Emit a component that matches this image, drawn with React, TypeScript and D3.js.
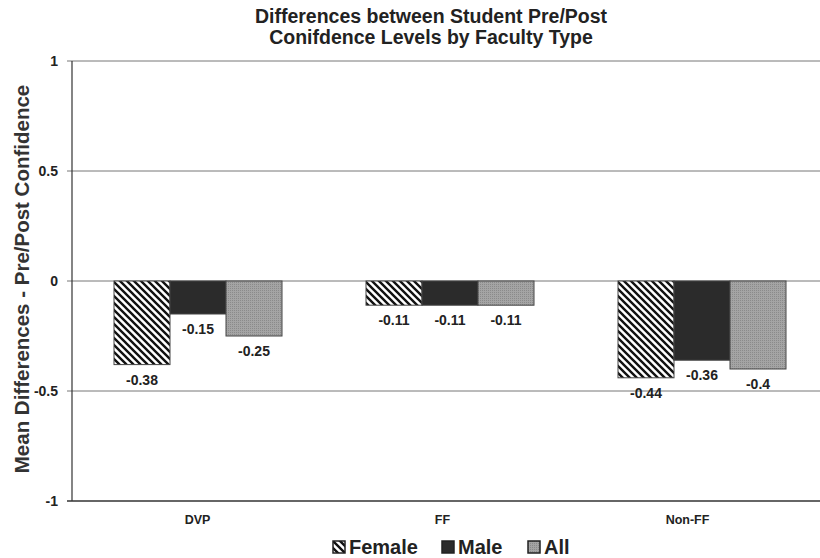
import React, { useRef, useEffect } from "react";
import * as d3 from "d3";

const categories = ["DVP", "FF", "Non-FF"];
const seriesNames = ["Female", "Male", "All"];
const femaleValues = [-0.38, -0.11, -0.44];
const maleValues = [-0.15, -0.11, -0.36];
const allValues = [-0.25, -0.11, -0.4];
const yTicks = [1, 0.5, 0, -0.5, -1];

const App = () => {
  const ref = useRef<SVGSVGElement>(null);

  useEffect(() => {
    const width = 820;
    const height = 558;
    const left = 72;
    const right = 828;
    const top = 61;
    const bottom = 501;
    const font = "'Liberation Sans', Arial, sans-serif";

    const svg = d3.select(ref.current);
    svg.selectAll("*").remove();
    svg.attr("width", width).attr("height", height);

    const defs = svg.append("defs");
    const stripes = defs
      .append("pattern")
      .attr("id", "stripes")
      .attr("patternUnits", "userSpaceOnUse")
      .attr("width", 7)
      .attr("height", 7);
    stripes.append("rect").attr("width", 7).attr("height", 7).attr("fill", "#fff");
    stripes
      .append("path")
      .attr("d", "M-1,-1 L8,8 M-4,3 L1,8 M3,-4 L8,1")
      .attr("stroke", "#111")
      .attr("stroke-width", 2.4);

    const dots = defs
      .append("pattern")
      .attr("id", "dots")
      .attr("patternUnits", "userSpaceOnUse")
      .attr("width", 2)
      .attr("height", 2);
    dots.append("rect").attr("width", 2).attr("height", 2).attr("fill", "#a4a4a4");
    dots.append("rect").attr("width", 1).attr("height", 1).attr("fill", "#8a8a8a");

    const fills = ["url(#stripes)", "#2b2b2b", "url(#dots)"];

    const x0 = d3.scaleBand().domain(categories).range([left, right]);
    const x1 = d3
      .scaleBand()
      .domain(seriesNames)
      .range([42, x0.bandwidth() - 42]);
    // category labels sit a bit left of the bar groups in the original
    const xLabel = d3.scaleBand().domain(categories).range([75, 810]);
    const y = d3.scaleLinear().domain([-1, 1]).range([bottom, top]);

    // title
    const title = svg
      .append("text")
      .attr("text-anchor", "middle")
      .style("font-family", font)
      .style("font-weight", "bold")
      .style("font-size", "19.5px")
      .attr("fill", "#222");
    title.append("tspan").attr("x", 431).attr("y", 23).text("Differences between Student Pre/Post");
    title.append("tspan").attr("x", 431).attr("y", 44).text("Conifdence Levels by Faculty Type");

    // grid
    svg
      .append("g")
      .selectAll("line")
      .data(yTicks.filter((t) => t !== -1))
      .enter()
      .append("line")
      .attr("x1", left - 5)
      .attr("x2", width)
      .attr("y1", (d) => y(d))
      .attr("y2", (d) => y(d))
      .attr("stroke", "#777")
      .attr("stroke-width", 1);

    svg
      .append("g")
      .selectAll("text")
      .data(yTicks)
      .enter()
      .append("text")
      .attr("x", left - 14)
      .attr("y", (d) => y(d) + 5)
      .attr("text-anchor", "end")
      .style("font-family", font)
      .style("font-weight", "bold")
      .style("font-size", "14px")
      .attr("fill", "#222")
      .text((d) => String(d));

    svg
      .append("text")
      .attr("transform", `translate(29,${(top + bottom) / 2 - 2}) rotate(-90)`)
      .attr("text-anchor", "middle")
      .style("font-family", font)
      .style("font-weight", "bold")
      .style("font-size", "20.5px")
      .attr("fill", "#333")
      .text("Mean Differences - Pre/Post Confidence");

    // bars
    const seriesValues = [femaleValues, maleValues, allValues];
    const rows = categories.flatMap((c, i) =>
      seriesNames.map((s, j) => ({ cat: c, name: s, value: seriesValues[j][i], fill: fills[j] }))
    );

    const bars = svg.append("g");
    bars
      .selectAll("rect")
      .data(rows)
      .enter()
      .append("rect")
      .attr("x", (d) => x0(d.cat)! + x1(d.name)!)
      .attr("y", (d) => y(Math.max(0, d.value)))
      .attr("width", x1.bandwidth())
      .attr("height", (d) => Math.abs(y(d.value) - y(0)))
      .attr("fill", (d) => d.fill)
      .attr("stroke", "#444")
      .attr("stroke-width", 1);

    bars
      .selectAll("text")
      .data(rows)
      .enter()
      .append("text")
      .attr("x", (d) => x0(d.cat)! + x1(d.name)! + x1.bandwidth() / 2)
      .attr("y", (d) => y(d.value) + 20)
      .attr("text-anchor", "middle")
      .style("font-family", font)
      .style("font-weight", "bold")
      .style("font-size", "14px")
      .attr("fill", "#222")
      .text((d) => String(d.value));

    // axes
    svg
      .append("line")
      .attr("x1", left)
      .attr("x2", left)
      .attr("y1", top)
      .attr("y2", bottom)
      .attr("stroke", "#333")
      .attr("stroke-width", 1.2);
    svg
      .append("line")
      .attr("x1", left - 5)
      .attr("x2", width)
      .attr("y1", bottom)
      .attr("y2", bottom)
      .attr("stroke", "#333")
      .attr("stroke-width", 1.5);

    svg
      .append("g")
      .selectAll("text")
      .data(categories)
      .enter()
      .append("text")
      .attr("x", (d) => xLabel(d)! + xLabel.bandwidth() / 2)
      .attr("y", 524)
      .attr("text-anchor", "middle")
      .style("font-family", font)
      .style("font-weight", "bold")
      .style("font-size", "12.5px")
      .attr("fill", "#222")
      .text((d) => d);

    // legend
    const legendX = [333, 442, 528];
    const legend = svg
      .append("g")
      .selectAll("g")
      .data(seriesNames)
      .enter()
      .append("g")
      .attr("transform", (d, i) => `translate(${legendX[i]},541)`);
    legend
      .append("rect")
      .attr("width", 12)
      .attr("height", 12)
      .attr("fill", (d, i) => fills[i])
      .attr("stroke", "#222")
      .attr("stroke-width", 1.5);
    legend
      .append("text")
      .attr("x", 16)
      .attr("y", 13)
      .style("font-family", font)
      .style("font-weight", "bold")
      .style("font-size", "20px")
      .attr("fill", "#222")
      .text((d) => d);

    return () => {
      svg.selectAll("*").remove();
    };
  }, []);

  return (
    <svg
      ref={ref}
      style={{ position: "absolute", left: 0, top: 0, background: "#fff" }}
    ></svg>
  );
};

export default App;
